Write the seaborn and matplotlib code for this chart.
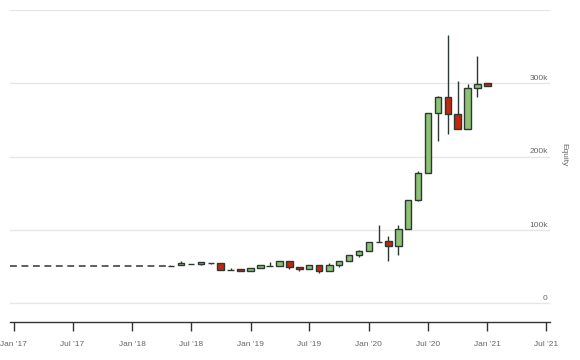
import matplotlib
matplotlib.use('Agg')
import matplotlib.pyplot as plt
import matplotlib.dates as mdates
import matplotlib.transforms as mtransforms
import pandas as pd
import numpy as np
import seaborn as sns

sns.set_style('white')
plt.rcParams['font.family'] = ['Liberation Sans', 'DejaVu Sans']

# monthly candles, equity in thousands
months = ['2018-05-01', '2018-06-01', '2018-07-01', '2018-08-01', '2018-09-01', '2018-10-01',
          '2018-11-01', '2018-12-01', '2019-01-01', '2019-02-01', '2019-03-01', '2019-04-01',
          '2019-05-01', '2019-06-01', '2019-07-01', '2019-08-01', '2019-09-01', '2019-10-01',
          '2019-11-01', '2019-12-01', '2020-01-01', '2020-02-01', '2020-03-01', '2020-04-01',
          '2020-05-01', '2020-06-01', '2020-07-01', '2020-08-01', '2020-09-01', '2020-10-01',
          '2020-11-01', '2020-12-01', '2021-01-01']
opens = [50.9, 51.8, 53.4, 53.2, 55.6, 54.6, 45.6, 46.8, 43.7, 47.7, 51.1, 50.5, 57.3, 49.1,
         46.8, 51.8, 43.7, 51.8, 57.3, 65.9, 70.9, 83.2, 84.6, 78.2, 101.8, 140.5, 177.4,
         259.2, 281.0, 257.8, 237.4, 293.3, 300.2]
highs = [51.2, 57.3, 53.8, 55.9, 55.6, 54.6, 48.6, 46.8, 47.7, 51.8, 56.3, 57.3, 57.3, 49.1,
         51.8, 51.8, 55.0, 57.3, 65.9, 72.7, 83.2, 106.8, 91.8, 106.8, 140.5, 180.9, 259.2,
         283.2, 366.0, 303.4, 298.8, 337.4, 300.2]
lows = [50.6, 51.8, 53.4, 51.8, 53.2, 45.0, 45.6, 44.1, 43.7, 47.7, 51.1, 50.5, 47.2, 43.7,
        46.8, 41.7, 43.7, 49.9, 57.3, 63.6, 70.9, 83.0, 58.1, 65.9, 101.0, 139.2, 177.4,
        221.8, 230.6, 237.4, 237.4, 281.9, 297.0]
closes = [50.9, 54.6, 53.8, 55.9, 55.3, 45.0, 45.9, 44.1, 47.7, 51.8, 51.5, 57.3, 49.1, 46.4,
          51.8, 43.7, 51.8, 57.3, 65.9, 70.9, 83.2, 84.0, 78.2, 101.8, 140.5, 177.4, 259.2,
          281.0, 257.8, 237.4, 293.3, 299.6, 297.0]

# flat starting equity before trading
flat_dates = ['2016-12-20', '2018-05-01']
flat_equity = [50.9, 50.9]

y_ticks = [0, 100, 200, 300]
y_labels = ['0', '100k', '200k', '300k']

df = pd.DataFrame({'date': pd.to_datetime(months), 'open': opens, 'high': highs,
                   'low': lows, 'close': closes})
df['x'] = mdates.date2num(df['date'])
up = df['close'] >= df['open']

fig = plt.figure(figsize=(5.8, 3.6), dpi=100)
ax = fig.add_axes([10 / 580, 38 / 360, 540 / 580, 312 / 360])

for v in [0, 100, 200, 300, 400]:
    ax.axhline(v, color='#e6e6e6', lw=1, zorder=0)

flat = pd.DataFrame({'x': mdates.date2num(pd.to_datetime(flat_dates)), 'y': flat_equity})
sns.lineplot(data=flat, x='x', y='y', ax=ax, color='#333333', lw=1.1, zorder=2)
ax.lines[-1].set_dashes([4.5, 3])

ax.vlines(df['x'], df['low'], df['high'], color='#2e3833', lw=1, zorder=2)
ax.bar(df['x'], df['close'] - df['open'], bottom=df['open'], width=20,
       color=np.where(up, '#8cc176', '#c0280f'), edgecolor='#2e3833', linewidth=1, zorder=3)

ax.set_ylim(-25.5, 400)
ax.set_xlim(mdates.date2num(pd.Timestamp('2016-12-20')), mdates.date2num(pd.Timestamp('2021-07-13')))

ax.xaxis.set_major_locator(mdates.MonthLocator(bymonth=[1, 7]))
ax.xaxis.set_major_formatter(mdates.DateFormatter("%b '%y"))
ax.tick_params(axis='x', length=6.5, width=1, color='#333333', pad=7,
               labelsize=6, labelcolor='#666666', bottom=True)
ax.set_yticks([])
ax.set_xlabel('')
ax.set_ylabel('')

for s in ['top', 'left', 'right']:
    ax.spines[s].set_visible(False)
ax.spines['bottom'].set_color('#333333')
ax.spines['bottom'].set_linewidth(1)

trans = mtransforms.blended_transform_factory(ax.transAxes, ax.transData)
for v, lab in zip(y_ticks, y_labels):
    ax.text(0.996, v + 2, lab, transform=trans, ha='right', va='bottom',
            fontsize=6, color='#666666')

ax.text(1.026, 0.535, 'Equity', transform=ax.transAxes, rotation=270,
        ha='center', va='center', fontsize=6, color='#666666')

fig.savefig('out.png', dpi=100)
